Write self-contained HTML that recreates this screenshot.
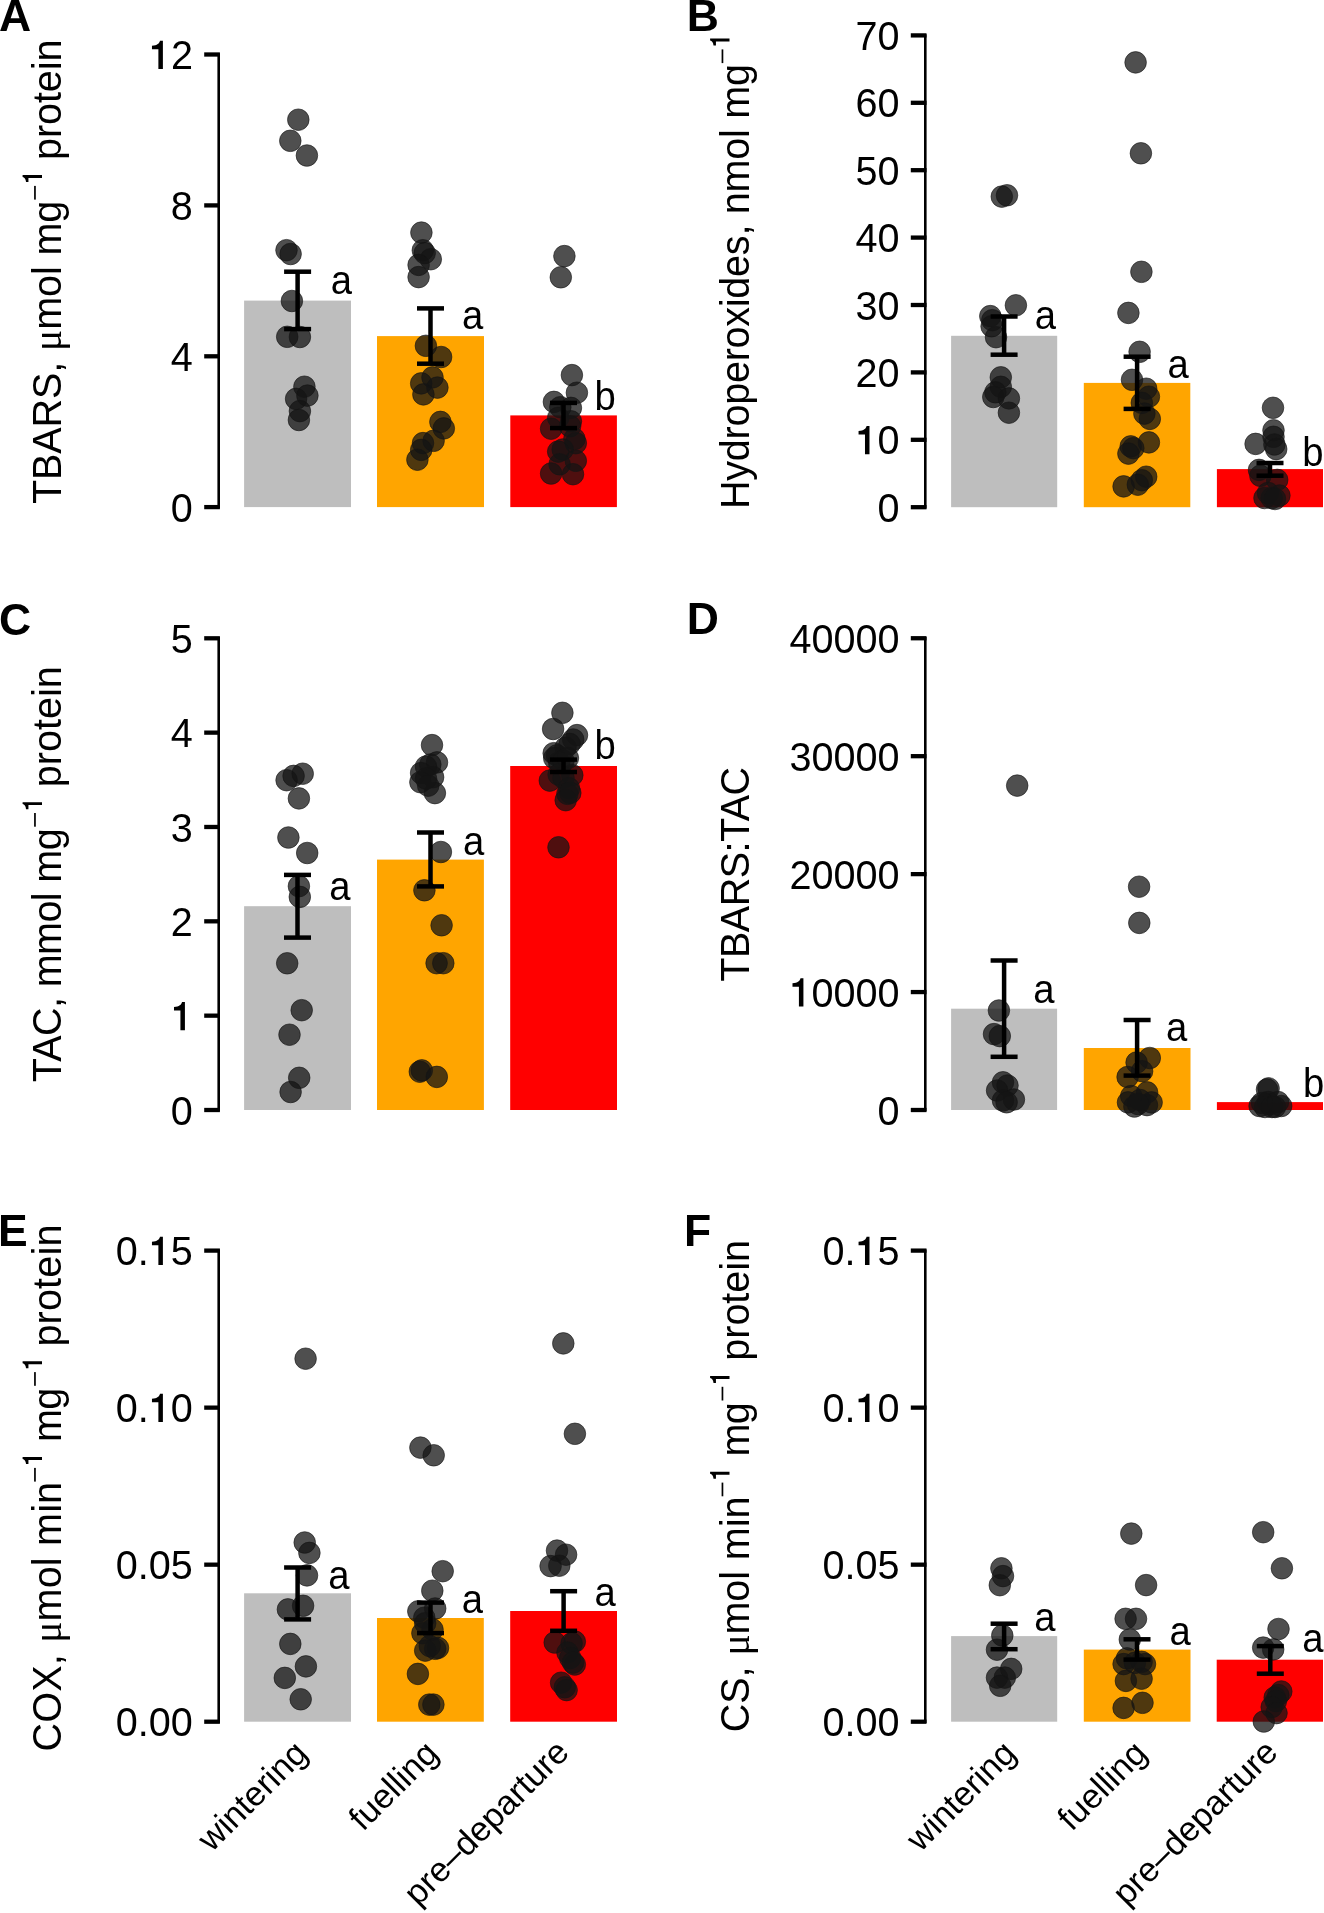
<!DOCTYPE html>
<html><head><meta charset="utf-8"><style>
html,body{margin:0;padding:0;background:#fff;}
svg{display:block;will-change:transform;}
text{font-family:"Liberation Sans", sans-serif;fill:#000;}
circle{fill:rgba(20,20,20,0.75);stroke:rgba(20,20,20,0.75);stroke-width:0.8px;}
</style></head><body>
<svg width="1324" height="1913" viewBox="0 0 1324 1913">
<defs><path id="g1" d="M493,0 L726,0 L726,1409 L575,1409 C545,1280 440,1175 161,1160 L161,985 L493,985 Z"/></defs>
<rect width="1324" height="1913" fill="#fff"/>
<line x1="218.7" y1="53.3" x2="218.7" y2="508.3" stroke="#000" stroke-width="2.6"/>
<line x1="204.2" y1="54.5" x2="219.89999999999998" y2="54.5" stroke="#000" stroke-width="4.3"/>
<text transform="translate(192.9,69.0) scale(1,1.037)" text-anchor="end" font-size="39.6"> 2</text>
<use href="#g1" transform="translate(148.85,69.0) scale(0.01934,-0.02005)"/>
<line x1="204.2" y1="205.4" x2="219.89999999999998" y2="205.4" stroke="#000" stroke-width="4.3"/>
<text transform="translate(192.9,219.9) scale(1,1.037)" text-anchor="end" font-size="39.6">8</text>
<line x1="204.2" y1="356.3" x2="219.89999999999998" y2="356.3" stroke="#000" stroke-width="4.3"/>
<text transform="translate(192.9,370.8) scale(1,1.037)" text-anchor="end" font-size="39.6">4</text>
<line x1="204.2" y1="507.1" x2="219.89999999999998" y2="507.1" stroke="#000" stroke-width="4.3"/>
<text transform="translate(192.9,521.6) scale(1,1.037)" text-anchor="end" font-size="39.6">0</text>
<rect x="244.1" y="300.6" width="106.90" height="206.50" fill="#bebebe"/>
<rect x="377" y="336.1" width="107.00" height="171.00" fill="#ffa500"/>
<rect x="510.3" y="415.4" width="106.60" height="91.70" fill="#ff0000"/>
<text transform="translate(61.3,504.0) rotate(-90) scale(1,1.03)" font-size="39.6" textLength="303.34" lengthAdjust="spacing">TBARS, <tspan font-family="Liberation Serif">μ</tspan>mol mg</text>
<g transform="translate(61.3,199.8) rotate(-90)"><rect x="0.2" y="-27.2" width="13.7" height="1.7"/><use href="#g1" transform="translate(15.69,-19.3) scale(0.01239,-0.01377)"/></g>
<text transform="translate(61.3,160.0) rotate(-90) scale(1,1.03)" font-size="39.6" textLength="120.52" lengthAdjust="spacing">protein</text>
<text x="-1.1" y="31.1" font-size="44.5" font-weight="bold">A</text>
<line x1="925.3" y1="34.19999999999992" x2="925.3" y2="508.4" stroke="#000" stroke-width="2.6"/>
<line x1="910.8" y1="507.2" x2="926.5" y2="507.2" stroke="#000" stroke-width="4.3"/>
<text transform="translate(899.5,521.7) scale(1,1.037)" text-anchor="end" font-size="39.6">0</text>
<line x1="910.8" y1="439.79999999999995" x2="926.5" y2="439.79999999999995" stroke="#000" stroke-width="4.3"/>
<text transform="translate(899.5,454.3) scale(1,1.037)" text-anchor="end" font-size="39.6"> 0</text>
<use href="#g1" transform="translate(855.45,454.3) scale(0.01934,-0.02005)"/>
<line x1="910.8" y1="372.4" x2="926.5" y2="372.4" stroke="#000" stroke-width="4.3"/>
<text transform="translate(899.5,386.9) scale(1,1.037)" text-anchor="end" font-size="39.6">20</text>
<line x1="910.8" y1="305.0" x2="926.5" y2="305.0" stroke="#000" stroke-width="4.3"/>
<text transform="translate(899.5,319.5) scale(1,1.037)" text-anchor="end" font-size="39.6">30</text>
<line x1="910.8" y1="237.59999999999997" x2="926.5" y2="237.59999999999997" stroke="#000" stroke-width="4.3"/>
<text transform="translate(899.5,252.1) scale(1,1.037)" text-anchor="end" font-size="39.6">40</text>
<line x1="910.8" y1="170.2" x2="926.5" y2="170.2" stroke="#000" stroke-width="4.3"/>
<text transform="translate(899.5,184.7) scale(1,1.037)" text-anchor="end" font-size="39.6">50</text>
<line x1="910.8" y1="102.79999999999995" x2="926.5" y2="102.79999999999995" stroke="#000" stroke-width="4.3"/>
<text transform="translate(899.5,117.3) scale(1,1.037)" text-anchor="end" font-size="39.6">60</text>
<line x1="910.8" y1="35.39999999999992" x2="926.5" y2="35.39999999999992" stroke="#000" stroke-width="4.3"/>
<text transform="translate(899.5,49.9) scale(1,1.037)" text-anchor="end" font-size="39.6">70</text>
<rect x="951.1" y="335.8" width="106.10" height="171.40" fill="#bebebe"/>
<rect x="1083.8" y="382.9" width="106.50" height="124.30" fill="#ffa500"/>
<rect x="1216.9" y="469.1" width="106.10" height="38.10" fill="#ff0000"/>
<text transform="translate(748.8,509.1) rotate(-90) scale(1,1.03)" font-size="39.6" textLength="445.14" lengthAdjust="spacing">Hydroperoxides, nmol mg</text>
<g transform="translate(748.8,63.3) rotate(-90)"><rect x="0.2" y="-27.2" width="13.7" height="1.7"/><use href="#g1" transform="translate(15.69,-19.3) scale(0.01239,-0.01377)"/></g>
<text x="686.7" y="31.2" font-size="44.5" font-weight="bold">B</text>
<line x1="218.7" y1="637.0999999999999" x2="218.7" y2="1111.2" stroke="#000" stroke-width="2.6"/>
<line x1="204.2" y1="1110.0" x2="219.89999999999998" y2="1110.0" stroke="#000" stroke-width="4.3"/>
<text transform="translate(192.9,1124.5) scale(1,1.037)" text-anchor="end" font-size="39.6">0</text>
<line x1="204.2" y1="1015.66" x2="219.89999999999998" y2="1015.66" stroke="#000" stroke-width="4.3"/>
<text transform="translate(192.9,1030.2) scale(1,1.037)" text-anchor="end" font-size="39.6"> </text>
<use href="#g1" transform="translate(170.88,1030.2) scale(0.01934,-0.02005)"/>
<line x1="204.2" y1="921.3199999999999" x2="219.89999999999998" y2="921.3199999999999" stroke="#000" stroke-width="4.3"/>
<text transform="translate(192.9,935.8) scale(1,1.037)" text-anchor="end" font-size="39.6">2</text>
<line x1="204.2" y1="826.98" x2="219.89999999999998" y2="826.98" stroke="#000" stroke-width="4.3"/>
<text transform="translate(192.9,841.5) scale(1,1.037)" text-anchor="end" font-size="39.6">3</text>
<line x1="204.2" y1="732.64" x2="219.89999999999998" y2="732.64" stroke="#000" stroke-width="4.3"/>
<text transform="translate(192.9,747.1) scale(1,1.037)" text-anchor="end" font-size="39.6">4</text>
<line x1="204.2" y1="638.3" x2="219.89999999999998" y2="638.3" stroke="#000" stroke-width="4.3"/>
<text transform="translate(192.9,652.8) scale(1,1.037)" text-anchor="end" font-size="39.6">5</text>
<rect x="244.1" y="906.2" width="106.90" height="203.80" fill="#bebebe"/>
<rect x="377" y="859.6" width="106.90" height="250.40" fill="#ffa500"/>
<rect x="510.2" y="766" width="106.80" height="344.00" fill="#ff0000"/>
<text transform="translate(61.3,1082.3) rotate(-90) scale(1,1.03)" font-size="39.6" textLength="254.04" lengthAdjust="spacing">TAC, mmol mg</text>
<g transform="translate(61.3,826.9) rotate(-90)"><rect x="0.2" y="-27.2" width="13.7" height="1.7"/><use href="#g1" transform="translate(15.69,-19.3) scale(0.01239,-0.01377)"/></g>
<text transform="translate(61.3,787.3) rotate(-90) scale(1,1.03)" font-size="39.6" textLength="121.12" lengthAdjust="spacing">protein</text>
<text x="-1.1" y="634.5" font-size="44.5" font-weight="bold">C</text>
<line x1="925.3" y1="637.04" x2="925.3" y2="1111.2" stroke="#000" stroke-width="2.6"/>
<line x1="910.8" y1="1110.0" x2="926.5" y2="1110.0" stroke="#000" stroke-width="4.3"/>
<text transform="translate(899.5,1124.5) scale(1,1.037)" text-anchor="end" font-size="39.6">0</text>
<line x1="910.8" y1="992.06" x2="926.5" y2="992.06" stroke="#000" stroke-width="4.3"/>
<text transform="translate(899.5,1006.6) scale(1,1.037)" text-anchor="end" font-size="39.6"> 0000</text>
<use href="#g1" transform="translate(789.38,1006.6) scale(0.01934,-0.02005)"/>
<line x1="910.8" y1="874.12" x2="926.5" y2="874.12" stroke="#000" stroke-width="4.3"/>
<text transform="translate(899.5,888.6) scale(1,1.037)" text-anchor="end" font-size="39.6">20000</text>
<line x1="910.8" y1="756.1800000000001" x2="926.5" y2="756.1800000000001" stroke="#000" stroke-width="4.3"/>
<text transform="translate(899.5,770.7) scale(1,1.037)" text-anchor="end" font-size="39.6">30000</text>
<line x1="910.8" y1="638.24" x2="926.5" y2="638.24" stroke="#000" stroke-width="4.3"/>
<text transform="translate(899.5,652.7) scale(1,1.037)" text-anchor="end" font-size="39.6">40000</text>
<rect x="951.1" y="1008.7" width="106.00" height="101.30" fill="#bebebe"/>
<rect x="1083.8" y="1048" width="106.70" height="62.00" fill="#ffa500"/>
<rect x="1216.9" y="1102.1" width="106.10" height="7.90" fill="#ff0000"/>
<text transform="translate(748.8,981.7) rotate(-90) scale(1,1.03)" font-size="39.6" textLength="214.87" lengthAdjust="spacing">TBARS:TAC</text>
<text x="686.7" y="633.9" font-size="44.5" font-weight="bold">D</text>
<line x1="218.7" y1="1249.41" x2="218.7" y2="1722.9" stroke="#000" stroke-width="2.6"/>
<line x1="204.2" y1="1721.7" x2="219.89999999999998" y2="1721.7" stroke="#000" stroke-width="4.3"/>
<text transform="translate(192.9,1736.2) scale(1,1.037)" text-anchor="end" font-size="39.6">0.00</text>
<line x1="204.2" y1="1564.67" x2="219.89999999999998" y2="1564.67" stroke="#000" stroke-width="4.3"/>
<text transform="translate(192.9,1579.2) scale(1,1.037)" text-anchor="end" font-size="39.6">0.05</text>
<line x1="204.2" y1="1407.64" x2="219.89999999999998" y2="1407.64" stroke="#000" stroke-width="4.3"/>
<text transform="translate(192.9,1422.1) scale(1,1.037)" text-anchor="end" font-size="39.6">0. 0</text>
<use href="#g1" transform="translate(148.85,1422.1) scale(0.01934,-0.02005)"/>
<line x1="204.2" y1="1250.6100000000001" x2="219.89999999999998" y2="1250.6100000000001" stroke="#000" stroke-width="4.3"/>
<text transform="translate(192.9,1265.1) scale(1,1.037)" text-anchor="end" font-size="39.6">0. 5</text>
<use href="#g1" transform="translate(148.85,1265.1) scale(0.01934,-0.02005)"/>
<rect x="244.1" y="1593.3" width="106.90" height="128.40" fill="#bebebe"/>
<rect x="377" y="1618" width="106.80" height="103.70" fill="#ffa500"/>
<rect x="510.2" y="1611" width="106.80" height="110.70" fill="#ff0000"/>
<text transform="translate(61.3,1751.5) rotate(-90) scale(1,1.03)" font-size="39.6" textLength="269.65" lengthAdjust="spacing">COX, <tspan font-family="Liberation Serif">μ</tspan>mol min</text>
<g transform="translate(61.3,1481.8) rotate(-90)"><rect x="0.2" y="-27.2" width="13.7" height="1.7"/><use href="#g1" transform="translate(15.69,-19.3) scale(0.01239,-0.01377)"/></g>
<text transform="translate(61.3,1442.0) rotate(-90) scale(1,1.03)" font-size="39.6" textLength="54.38" lengthAdjust="spacing">mg</text>
<g transform="translate(61.3,1386.0) rotate(-90)"><rect x="0.2" y="-27.2" width="13.7" height="1.7"/><use href="#g1" transform="translate(15.69,-19.3) scale(0.01239,-0.01377)"/></g>
<text transform="translate(61.3,1346.6) rotate(-90) scale(1,1.03)" font-size="39.6" textLength="122.02" lengthAdjust="spacing">protein</text>
<text x="-2.1" y="1246" font-size="44.5" font-weight="bold">E</text>
<line x1="925.3" y1="1249.41" x2="925.3" y2="1722.9" stroke="#000" stroke-width="2.6"/>
<line x1="910.8" y1="1721.7" x2="926.5" y2="1721.7" stroke="#000" stroke-width="4.3"/>
<text transform="translate(899.5,1736.2) scale(1,1.037)" text-anchor="end" font-size="39.6">0.00</text>
<line x1="910.8" y1="1564.67" x2="926.5" y2="1564.67" stroke="#000" stroke-width="4.3"/>
<text transform="translate(899.5,1579.2) scale(1,1.037)" text-anchor="end" font-size="39.6">0.05</text>
<line x1="910.8" y1="1407.64" x2="926.5" y2="1407.64" stroke="#000" stroke-width="4.3"/>
<text transform="translate(899.5,1422.1) scale(1,1.037)" text-anchor="end" font-size="39.6">0. 0</text>
<use href="#g1" transform="translate(855.45,1422.1) scale(0.01934,-0.02005)"/>
<line x1="910.8" y1="1250.6100000000001" x2="926.5" y2="1250.6100000000001" stroke="#000" stroke-width="4.3"/>
<text transform="translate(899.5,1265.1) scale(1,1.037)" text-anchor="end" font-size="39.6">0. 5</text>
<use href="#g1" transform="translate(855.45,1265.1) scale(0.01934,-0.02005)"/>
<rect x="951.1" y="1636.1" width="106.10" height="85.60" fill="#bebebe"/>
<rect x="1083.8" y="1649.6" width="106.70" height="72.10" fill="#ffa500"/>
<rect x="1216.7" y="1659.7" width="106.30" height="62.00" fill="#ff0000"/>
<text transform="translate(748.8,1732.2) rotate(-90) scale(1,1.03)" font-size="39.6" textLength="235.67" lengthAdjust="spacing">CS, <tspan font-family="Liberation Serif">μ</tspan>mol min</text>
<g transform="translate(748.8,1496.5) rotate(-90)"><rect x="0.2" y="-27.2" width="13.7" height="1.7"/><use href="#g1" transform="translate(15.69,-19.3) scale(0.01239,-0.01377)"/></g>
<text transform="translate(748.8,1456.6) rotate(-90) scale(1,1.03)" font-size="39.6" textLength="54.28" lengthAdjust="spacing">mg</text>
<g transform="translate(748.8,1400.7) rotate(-90)"><rect x="0.2" y="-27.2" width="13.7" height="1.7"/><use href="#g1" transform="translate(15.69,-19.3) scale(0.01239,-0.01377)"/></g>
<text transform="translate(748.8,1360.7) rotate(-90) scale(1,1.03)" font-size="39.6" textLength="120.72" lengthAdjust="spacing">protein</text>
<text x="684.0" y="1246" font-size="44.5" font-weight="bold">F</text>
<circle cx="298.3" cy="119.7" r="10.8"/>
<circle cx="290.3" cy="140.8" r="10.8"/>
<circle cx="306.9" cy="155.5" r="10.8"/>
<circle cx="286.5" cy="250.2" r="10.8"/>
<circle cx="290.6" cy="254" r="10.8"/>
<circle cx="291.9" cy="301" r="10.8"/>
<circle cx="287.2" cy="336.8" r="10.8"/>
<circle cx="299.9" cy="337" r="10.8"/>
<circle cx="304.4" cy="386.7" r="10.8"/>
<circle cx="296.1" cy="398.9" r="10.8"/>
<circle cx="307.4" cy="395.6" r="10.8"/>
<circle cx="299.9" cy="411.1" r="10.8"/>
<circle cx="298.9" cy="420" r="10.8"/>
<circle cx="421.4" cy="232.6" r="10.8"/>
<circle cx="422.8" cy="250.3" r="10.8"/>
<circle cx="424.7" cy="253.1" r="10.8"/>
<circle cx="430.8" cy="259.2" r="10.8"/>
<circle cx="418.6" cy="264.9" r="10.8"/>
<circle cx="418.6" cy="277.1" r="10.8"/>
<circle cx="425.9" cy="345.8" r="10.8"/>
<circle cx="441.1" cy="357" r="10.8"/>
<circle cx="432.5" cy="377.4" r="10.8"/>
<circle cx="421.2" cy="383.4" r="10.8"/>
<circle cx="437.4" cy="387.6" r="10.8"/>
<circle cx="423.4" cy="394.4" r="10.8"/>
<circle cx="440.4" cy="421.9" r="10.8"/>
<circle cx="443.8" cy="428.4" r="10.8"/>
<circle cx="433.6" cy="440.8" r="10.8"/>
<circle cx="423" cy="443.1" r="10.8"/>
<circle cx="421.2" cy="449.9" r="10.8"/>
<circle cx="417.4" cy="459.7" r="10.8"/>
<circle cx="564.4" cy="256.1" r="10.8"/>
<circle cx="560.8" cy="277.3" r="10.8"/>
<circle cx="571.9" cy="375.1" r="10.8"/>
<circle cx="576.9" cy="392.7" r="10.8"/>
<circle cx="553.9" cy="401.9" r="10.8"/>
<circle cx="570.9" cy="407.9" r="10.8"/>
<circle cx="560.3" cy="407.2" r="10.8"/>
<circle cx="558.2" cy="417.8" r="10.8"/>
<circle cx="570.9" cy="421.3" r="10.8"/>
<circle cx="551.1" cy="428.7" r="10.8"/>
<circle cx="570.1" cy="426.3" r="10.8"/>
<circle cx="574.4" cy="439" r="10.8"/>
<circle cx="575.8" cy="443.2" r="10.8"/>
<circle cx="562.7" cy="449.5" r="10.8"/>
<circle cx="558.2" cy="451.6" r="10.8"/>
<circle cx="575.8" cy="460.8" r="10.8"/>
<circle cx="559.6" cy="464.3" r="10.8"/>
<circle cx="551.1" cy="473.5" r="10.8"/>
<circle cx="573" cy="474.2" r="10.8"/>
<circle cx="1001.8" cy="196.6" r="10.8"/>
<circle cx="1007" cy="195.3" r="10.8"/>
<circle cx="1015.9" cy="305.3" r="10.8"/>
<circle cx="990.3" cy="316.1" r="10.8"/>
<circle cx="992.3" cy="320.2" r="10.8"/>
<circle cx="991.6" cy="326.3" r="10.8"/>
<circle cx="996" cy="337.2" r="10.8"/>
<circle cx="1000.8" cy="377.3" r="10.8"/>
<circle cx="1000.8" cy="386.8" r="10.8"/>
<circle cx="995.4" cy="392.3" r="10.8"/>
<circle cx="993.3" cy="397" r="10.8"/>
<circle cx="1008.9" cy="398.4" r="10.8"/>
<circle cx="1008.9" cy="412.7" r="10.8"/>
<circle cx="1135.6" cy="62.4" r="10.8"/>
<circle cx="1140.9" cy="153.3" r="10.8"/>
<circle cx="1141.4" cy="271.8" r="10.8"/>
<circle cx="1128.4" cy="312.9" r="10.8"/>
<circle cx="1139.6" cy="351.8" r="10.8"/>
<circle cx="1132" cy="379.8" r="10.8"/>
<circle cx="1146.2" cy="388.7" r="10.8"/>
<circle cx="1148.9" cy="396.7" r="10.8"/>
<circle cx="1141.8" cy="402.9" r="10.8"/>
<circle cx="1144.4" cy="413.6" r="10.8"/>
<circle cx="1149.8" cy="418.9" r="10.8"/>
<circle cx="1148.9" cy="442.4" r="10.8"/>
<circle cx="1130.7" cy="446.4" r="10.8"/>
<circle cx="1133.3" cy="448.2" r="10.8"/>
<circle cx="1128.4" cy="453.6" r="10.8"/>
<circle cx="1146.2" cy="476.7" r="10.8"/>
<circle cx="1141.8" cy="480.2" r="10.8"/>
<circle cx="1137.8" cy="484.7" r="10.8"/>
<circle cx="1123.6" cy="486.4" r="10.8"/>
<circle cx="1273" cy="407.8" r="10.8"/>
<circle cx="1273.5" cy="430.3" r="10.8"/>
<circle cx="1273.5" cy="436.8" r="10.8"/>
<circle cx="1255.6" cy="443.9" r="10.8"/>
<circle cx="1274.4" cy="444.5" r="10.8"/>
<circle cx="1276.2" cy="449.1" r="10.8"/>
<circle cx="1259" cy="469.9" r="10.8"/>
<circle cx="1260.4" cy="475.8" r="10.8"/>
<circle cx="1277.2" cy="479.9" r="10.8"/>
<circle cx="1264.5" cy="498" r="10.8"/>
<circle cx="1271.7" cy="498" r="10.8"/>
<circle cx="1279.4" cy="495.5" r="10.8"/>
<circle cx="1268" cy="493" r="10.8"/>
<circle cx="1275" cy="499" r="10.8"/>
<circle cx="286.6" cy="780.2" r="10.8"/>
<circle cx="293.6" cy="775.9" r="10.8"/>
<circle cx="302.7" cy="773.7" r="10.8"/>
<circle cx="298.9" cy="798.4" r="10.8"/>
<circle cx="288.4" cy="837.5" r="10.8"/>
<circle cx="307.2" cy="853" r="10.8"/>
<circle cx="298.9" cy="886.2" r="10.8"/>
<circle cx="299.8" cy="896.9" r="10.8"/>
<circle cx="287.2" cy="963.3" r="10.8"/>
<circle cx="301.7" cy="1010.2" r="10.8"/>
<circle cx="289.5" cy="1034.7" r="10.8"/>
<circle cx="299.2" cy="1077.8" r="10.8"/>
<circle cx="290.6" cy="1092" r="10.8"/>
<circle cx="432" cy="745.1" r="10.8"/>
<circle cx="437" cy="762.4" r="10.8"/>
<circle cx="430.3" cy="764.5" r="10.8"/>
<circle cx="426" cy="766.6" r="10.8"/>
<circle cx="421.1" cy="773" r="10.8"/>
<circle cx="433.1" cy="777.2" r="10.8"/>
<circle cx="420.4" cy="782.2" r="10.8"/>
<circle cx="428.2" cy="785.7" r="10.8"/>
<circle cx="434.9" cy="793.1" r="10.8"/>
<circle cx="426" cy="778.6" r="10.8"/>
<circle cx="440.9" cy="852" r="10.8"/>
<circle cx="424.4" cy="890.3" r="10.8"/>
<circle cx="441.6" cy="925.3" r="10.8"/>
<circle cx="436.6" cy="963.2" r="10.8"/>
<circle cx="443.3" cy="963.2" r="10.8"/>
<circle cx="419.8" cy="1071.7" r="10.8"/>
<circle cx="421.8" cy="1070.4" r="10.8"/>
<circle cx="436.8" cy="1076.9" r="10.8"/>
<circle cx="562.4" cy="712.8" r="10.8"/>
<circle cx="553.1" cy="729" r="10.8"/>
<circle cx="577" cy="735.1" r="10.8"/>
<circle cx="573.2" cy="739.5" r="10.8"/>
<circle cx="569.6" cy="743.9" r="10.8"/>
<circle cx="565.5" cy="747.7" r="10.8"/>
<circle cx="553.7" cy="753.2" r="10.8"/>
<circle cx="557" cy="755.4" r="10.8"/>
<circle cx="554.2" cy="758.1" r="10.8"/>
<circle cx="559.2" cy="762.5" r="10.8"/>
<circle cx="563.5" cy="760.9" r="10.8"/>
<circle cx="567.9" cy="758.1" r="10.8"/>
<circle cx="572.3" cy="775.2" r="10.8"/>
<circle cx="558.6" cy="774.6" r="10.8"/>
<circle cx="549.8" cy="780.6" r="10.8"/>
<circle cx="563.5" cy="777.9" r="10.8"/>
<circle cx="569" cy="788.3" r="10.8"/>
<circle cx="567.4" cy="793.8" r="10.8"/>
<circle cx="570.3" cy="792.9" r="10.8"/>
<circle cx="565.7" cy="800.2" r="10.8"/>
<circle cx="558.5" cy="847.3" r="10.8"/>
<circle cx="1017.2" cy="785.6" r="10.8"/>
<circle cx="998.9" cy="1010.5" r="10.8"/>
<circle cx="994" cy="1034.1" r="10.8"/>
<circle cx="999.8" cy="1036.1" r="10.8"/>
<circle cx="1003" cy="1082.3" r="10.8"/>
<circle cx="1007.5" cy="1085.5" r="10.8"/>
<circle cx="997.1" cy="1090.5" r="10.8"/>
<circle cx="1013.9" cy="1099.5" r="10.8"/>
<circle cx="1003" cy="1100.5" r="10.8"/>
<circle cx="1006.6" cy="1102.3" r="10.8"/>
<circle cx="1139.1" cy="886.7" r="10.8"/>
<circle cx="1139.3" cy="922.9" r="10.8"/>
<circle cx="1149.8" cy="1058" r="10.8"/>
<circle cx="1136.6" cy="1062.5" r="10.8"/>
<circle cx="1142.1" cy="1071.2" r="10.8"/>
<circle cx="1127.6" cy="1077" r="10.8"/>
<circle cx="1147.1" cy="1092.4" r="10.8"/>
<circle cx="1131.2" cy="1096.1" r="10.8"/>
<circle cx="1128" cy="1102.4" r="10.8"/>
<circle cx="1134.4" cy="1106.5" r="10.8"/>
<circle cx="1147" cy="1105.1" r="10.8"/>
<circle cx="1151.6" cy="1102.4" r="10.8"/>
<circle cx="1140" cy="1100" r="10.8"/>
<circle cx="1138" cy="1104" r="10.8"/>
<circle cx="1268.6" cy="1088.4" r="10.8"/>
<circle cx="1267" cy="1089.5" r="10.8"/>
<circle cx="1259.6" cy="1106" r="10.8"/>
<circle cx="1281.2" cy="1106" r="10.8"/>
<circle cx="1265" cy="1107" r="10.8"/>
<circle cx="1270" cy="1104" r="10.8"/>
<circle cx="1275" cy="1107" r="10.8"/>
<circle cx="1268" cy="1102" r="10.8"/>
<circle cx="1262" cy="1103" r="10.8"/>
<circle cx="1278" cy="1102" r="10.8"/>
<circle cx="1272" cy="1107" r="10.8"/>
<circle cx="305.6" cy="1358.7" r="10.8"/>
<circle cx="304.7" cy="1542.5" r="10.8"/>
<circle cx="309.4" cy="1552.9" r="10.8"/>
<circle cx="307" cy="1575.4" r="10.8"/>
<circle cx="287.9" cy="1609.4" r="10.8"/>
<circle cx="303.1" cy="1605.8" r="10.8"/>
<circle cx="290.3" cy="1643.9" r="10.8"/>
<circle cx="305.9" cy="1666.4" r="10.8"/>
<circle cx="284.8" cy="1677.9" r="10.8"/>
<circle cx="300.7" cy="1699.3" r="10.8"/>
<circle cx="420.4" cy="1447.6" r="10.8"/>
<circle cx="433.7" cy="1455.3" r="10.8"/>
<circle cx="442.7" cy="1571.2" r="10.8"/>
<circle cx="432.3" cy="1590.7" r="10.8"/>
<circle cx="435.2" cy="1608.5" r="10.8"/>
<circle cx="418.3" cy="1611.3" r="10.8"/>
<circle cx="424.3" cy="1617.7" r="10.8"/>
<circle cx="425.2" cy="1623.2" r="10.8"/>
<circle cx="432.5" cy="1629.6" r="10.8"/>
<circle cx="422.4" cy="1633.2" r="10.8"/>
<circle cx="429.8" cy="1646" r="10.8"/>
<circle cx="435.2" cy="1648.8" r="10.8"/>
<circle cx="438" cy="1647.9" r="10.8"/>
<circle cx="425.2" cy="1650.6" r="10.8"/>
<circle cx="417.9" cy="1673.9" r="10.8"/>
<circle cx="429.3" cy="1704.6" r="10.8"/>
<circle cx="433.4" cy="1704.6" r="10.8"/>
<circle cx="563.3" cy="1343.4" r="10.8"/>
<circle cx="574.9" cy="1433.8" r="10.8"/>
<circle cx="557" cy="1550.6" r="10.8"/>
<circle cx="566.1" cy="1554.7" r="10.8"/>
<circle cx="550.6" cy="1566.1" r="10.8"/>
<circle cx="559.3" cy="1565.7" r="10.8"/>
<circle cx="554.7" cy="1642.5" r="10.8"/>
<circle cx="574.8" cy="1641.6" r="10.8"/>
<circle cx="571.6" cy="1643.4" r="10.8"/>
<circle cx="567.5" cy="1652.6" r="10.8"/>
<circle cx="570.2" cy="1658" r="10.8"/>
<circle cx="574.8" cy="1664.5" r="10.8"/>
<circle cx="573" cy="1662.6" r="10.8"/>
<circle cx="561.1" cy="1682.7" r="10.8"/>
<circle cx="564.8" cy="1687.3" r="10.8"/>
<circle cx="566.6" cy="1690.1" r="10.8"/>
<circle cx="1001.4" cy="1568.3" r="10.8"/>
<circle cx="1003" cy="1576.1" r="10.8"/>
<circle cx="999.8" cy="1585.2" r="10.8"/>
<circle cx="1002.3" cy="1635.5" r="10.8"/>
<circle cx="997" cy="1649.7" r="10.8"/>
<circle cx="1011.2" cy="1668.9" r="10.8"/>
<circle cx="997" cy="1677.6" r="10.8"/>
<circle cx="1004.8" cy="1677.6" r="10.8"/>
<circle cx="1000.2" cy="1685.8" r="10.8"/>
<circle cx="1131.3" cy="1533.6" r="10.8"/>
<circle cx="1146.1" cy="1585.1" r="10.8"/>
<circle cx="1125.6" cy="1618.8" r="10.8"/>
<circle cx="1136" cy="1618.8" r="10.8"/>
<circle cx="1129.8" cy="1639.5" r="10.8"/>
<circle cx="1127" cy="1658.4" r="10.8"/>
<circle cx="1123.6" cy="1664.1" r="10.8"/>
<circle cx="1134.9" cy="1662.9" r="10.8"/>
<circle cx="1141.6" cy="1661.8" r="10.8"/>
<circle cx="1145" cy="1664.1" r="10.8"/>
<circle cx="1125.9" cy="1680.9" r="10.8"/>
<circle cx="1141.6" cy="1678.7" r="10.8"/>
<circle cx="1123.6" cy="1707.9" r="10.8"/>
<circle cx="1142.5" cy="1702.8" r="10.8"/>
<circle cx="1263.2" cy="1532.2" r="10.8"/>
<circle cx="1281.9" cy="1568.3" r="10.8"/>
<circle cx="1278.5" cy="1629" r="10.8"/>
<circle cx="1263.2" cy="1647.6" r="10.8"/>
<circle cx="1273.2" cy="1649.4" r="10.8"/>
<circle cx="1281.3" cy="1691.5" r="10.8"/>
<circle cx="1278.3" cy="1695.1" r="10.8"/>
<circle cx="1274.7" cy="1697.5" r="10.8"/>
<circle cx="1275.9" cy="1701.1" r="10.8"/>
<circle cx="1271.7" cy="1707.1" r="10.8"/>
<circle cx="1276.5" cy="1713.1" r="10.8"/>
<circle cx="1263.8" cy="1721.5" r="10.8"/>
<line x1="297.6" y1="271.7" x2="297.6" y2="329.1" stroke="#000" stroke-width="4.5"/>
<line x1="284.1" y1="271.7" x2="311.1" y2="271.7" stroke="#000" stroke-width="4.5"/>
<line x1="284.1" y1="329.1" x2="311.1" y2="329.1" stroke="#000" stroke-width="4.5"/>
<line x1="430.5" y1="308.4" x2="430.5" y2="363.7" stroke="#000" stroke-width="4.5"/>
<line x1="417.0" y1="308.4" x2="444.0" y2="308.4" stroke="#000" stroke-width="4.5"/>
<line x1="417.0" y1="363.7" x2="444.0" y2="363.7" stroke="#000" stroke-width="4.5"/>
<line x1="563.5" y1="402.9" x2="563.5" y2="428.1" stroke="#000" stroke-width="4.5"/>
<line x1="550.0" y1="402.9" x2="577.0" y2="402.9" stroke="#000" stroke-width="4.5"/>
<line x1="550.0" y1="428.1" x2="577.0" y2="428.1" stroke="#000" stroke-width="4.5"/>
<line x1="1004.1" y1="316.5" x2="1004.1" y2="354.7" stroke="#000" stroke-width="4.5"/>
<line x1="990.6" y1="316.5" x2="1017.6" y2="316.5" stroke="#000" stroke-width="4.5"/>
<line x1="990.6" y1="354.7" x2="1017.6" y2="354.7" stroke="#000" stroke-width="4.5"/>
<line x1="1137.1" y1="356.7" x2="1137.1" y2="408.9" stroke="#000" stroke-width="4.5"/>
<line x1="1123.6" y1="356.7" x2="1150.6" y2="356.7" stroke="#000" stroke-width="4.5"/>
<line x1="1123.6" y1="408.9" x2="1150.6" y2="408.9" stroke="#000" stroke-width="4.5"/>
<line x1="1270" y1="463" x2="1270" y2="475.7" stroke="#000" stroke-width="4.5"/>
<line x1="1256.5" y1="463" x2="1283.5" y2="463" stroke="#000" stroke-width="4.5"/>
<line x1="1256.5" y1="475.7" x2="1283.5" y2="475.7" stroke="#000" stroke-width="4.5"/>
<line x1="297.5" y1="874.9" x2="297.5" y2="937.6" stroke="#000" stroke-width="4.5"/>
<line x1="284.0" y1="874.9" x2="311.0" y2="874.9" stroke="#000" stroke-width="4.5"/>
<line x1="284.0" y1="937.6" x2="311.0" y2="937.6" stroke="#000" stroke-width="4.5"/>
<line x1="430.5" y1="832.5" x2="430.5" y2="886.4" stroke="#000" stroke-width="4.5"/>
<line x1="417.0" y1="832.5" x2="444.0" y2="832.5" stroke="#000" stroke-width="4.5"/>
<line x1="417.0" y1="886.4" x2="444.0" y2="886.4" stroke="#000" stroke-width="4.5"/>
<line x1="563.5" y1="759.6" x2="563.5" y2="772" stroke="#000" stroke-width="4.5"/>
<line x1="550.0" y1="759.6" x2="577.0" y2="759.6" stroke="#000" stroke-width="4.5"/>
<line x1="550.0" y1="772" x2="577.0" y2="772" stroke="#000" stroke-width="4.5"/>
<line x1="1004.1" y1="960.5" x2="1004.1" y2="1056.8" stroke="#000" stroke-width="4.5"/>
<line x1="990.6" y1="960.5" x2="1017.6" y2="960.5" stroke="#000" stroke-width="4.5"/>
<line x1="990.6" y1="1056.8" x2="1017.6" y2="1056.8" stroke="#000" stroke-width="4.5"/>
<line x1="1137.1" y1="1020" x2="1137.1" y2="1075.6" stroke="#000" stroke-width="4.5"/>
<line x1="1123.6" y1="1020" x2="1150.6" y2="1020" stroke="#000" stroke-width="4.5"/>
<line x1="1123.6" y1="1075.6" x2="1150.6" y2="1075.6" stroke="#000" stroke-width="4.5"/>
<line x1="297.6" y1="1567.5" x2="297.6" y2="1619.4" stroke="#000" stroke-width="4.5"/>
<line x1="284.1" y1="1567.5" x2="311.1" y2="1567.5" stroke="#000" stroke-width="4.5"/>
<line x1="284.1" y1="1619.4" x2="311.1" y2="1619.4" stroke="#000" stroke-width="4.5"/>
<line x1="430.5" y1="1602.6" x2="430.5" y2="1633.1" stroke="#000" stroke-width="4.5"/>
<line x1="417.0" y1="1602.6" x2="444.0" y2="1602.6" stroke="#000" stroke-width="4.5"/>
<line x1="417.0" y1="1633.1" x2="444.0" y2="1633.1" stroke="#000" stroke-width="4.5"/>
<line x1="563.6" y1="1591.2" x2="563.6" y2="1630.8" stroke="#000" stroke-width="4.5"/>
<line x1="550.1" y1="1591.2" x2="577.1" y2="1591.2" stroke="#000" stroke-width="4.5"/>
<line x1="550.1" y1="1630.8" x2="577.1" y2="1630.8" stroke="#000" stroke-width="4.5"/>
<line x1="1004.1" y1="1623.7" x2="1004.1" y2="1649.2" stroke="#000" stroke-width="4.5"/>
<line x1="990.6" y1="1623.7" x2="1017.6" y2="1623.7" stroke="#000" stroke-width="4.5"/>
<line x1="990.6" y1="1649.2" x2="1017.6" y2="1649.2" stroke="#000" stroke-width="4.5"/>
<line x1="1137" y1="1639.3" x2="1137" y2="1659.6" stroke="#000" stroke-width="4.5"/>
<line x1="1123.5" y1="1639.3" x2="1150.5" y2="1639.3" stroke="#000" stroke-width="4.5"/>
<line x1="1123.5" y1="1659.6" x2="1150.5" y2="1659.6" stroke="#000" stroke-width="4.5"/>
<line x1="1270.3" y1="1646.1" x2="1270.3" y2="1673.7" stroke="#000" stroke-width="4.5"/>
<line x1="1256.8" y1="1646.1" x2="1283.8" y2="1646.1" stroke="#000" stroke-width="4.5"/>
<line x1="1256.8" y1="1673.7" x2="1283.8" y2="1673.7" stroke="#000" stroke-width="4.5"/>
<text transform="translate(330.8,293.5) scale(0.965,1.05)" font-size="39.6">a</text>
<text transform="translate(462.1,329.1) scale(0.965,1.05)" font-size="39.6">a</text>
<text transform="translate(594.6,409.7) scale(0.965,1.05)" font-size="39.6">b</text>
<text transform="translate(1034.7,329.1) scale(0.965,1.05)" font-size="39.6">a</text>
<text transform="translate(1167.4,377.5) scale(0.965,1.05)" font-size="39.6">a</text>
<text transform="translate(1302.3,465.5) scale(0.965,1.05)" font-size="39.6">b</text>
<text transform="translate(329.3,899.6) scale(0.965,1.05)" font-size="39.6">a</text>
<text transform="translate(463.1,854.5) scale(0.965,1.05)" font-size="39.6">a</text>
<text transform="translate(594.4,759.0) scale(0.965,1.05)" font-size="39.6">b</text>
<text transform="translate(1033.3,1003.1) scale(0.965,1.05)" font-size="39.6">a</text>
<text transform="translate(1166.0,1041.3) scale(0.965,1.05)" font-size="39.6">a</text>
<text transform="translate(1302.9,1097.2) scale(0.965,1.05)" font-size="39.6">b</text>
<text transform="translate(328.3,1589.1) scale(0.965,1.05)" font-size="39.6">a</text>
<text transform="translate(461.7,1612.7) scale(0.965,1.05)" font-size="39.6">a</text>
<text transform="translate(594.4,1605.5) scale(0.965,1.05)" font-size="39.6">a</text>
<text transform="translate(1034.2,1631.0) scale(0.965,1.05)" font-size="39.6">a</text>
<text transform="translate(1169.4,1644.9) scale(0.965,1.05)" font-size="39.6">a</text>
<text transform="translate(1302.2,1651.7) scale(0.965,1.05)" font-size="39.6">a</text>
<text transform="translate(309.2,1755.3) rotate(-45)" text-anchor="end" font-size="34.4">wintering</text>
<text transform="translate(440.1,1755.3) rotate(-45)" text-anchor="end" font-size="34.4">fuelling</text>
<text transform="translate(570.9,1754.2) rotate(-45)" text-anchor="end" font-size="34.4">pre–departure</text>
<text transform="translate(1017.9,1755.3) rotate(-45)" text-anchor="end" font-size="34.4">wintering</text>
<text transform="translate(1148.8,1755.3) rotate(-45)" text-anchor="end" font-size="34.4">fuelling</text>
<text transform="translate(1279.6,1754.2) rotate(-45)" text-anchor="end" font-size="34.4">pre–departure</text>
</svg>
</body></html>
